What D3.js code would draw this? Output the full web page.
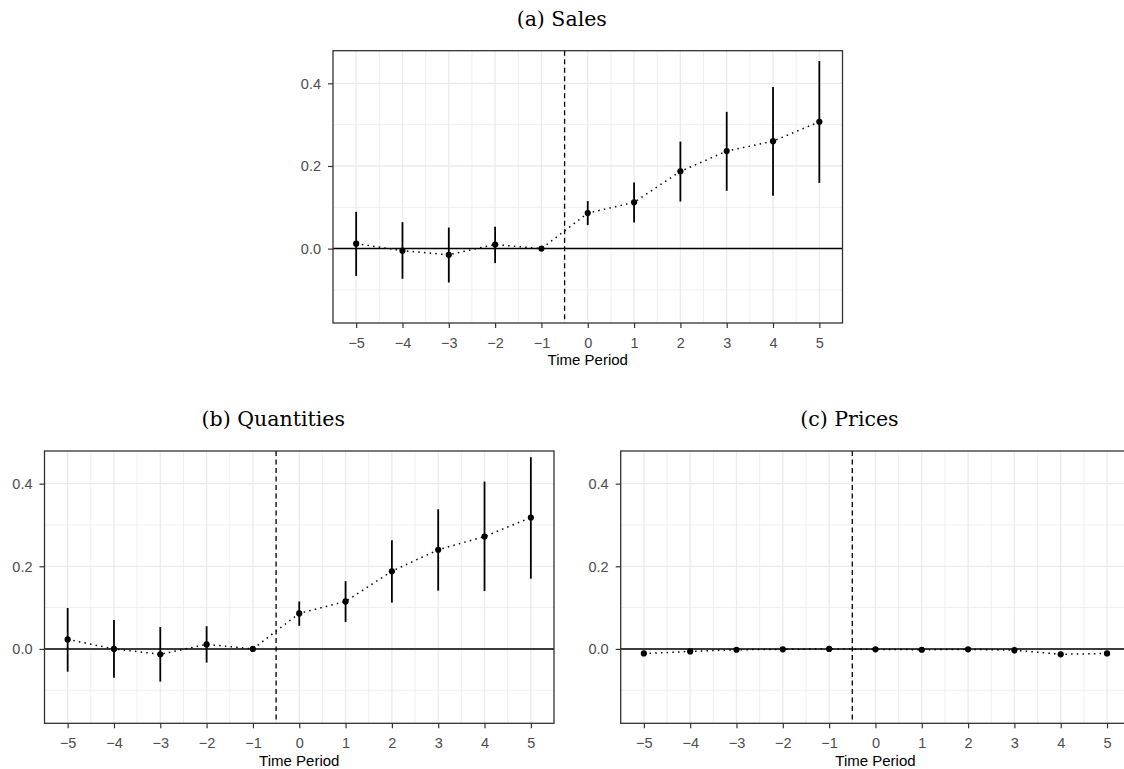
<!DOCTYPE html>
<html><head><meta charset="utf-8">
<script src="https://cdn.jsdelivr.net/npm/d3@7"></script>
<style>body{margin:0;background:#fff;} svg{display:block}</style>
</head><body>
<svg id="chart" width="1124" height="769"></svg>
<script>
// ---- data ----
const periods = [-5, -4, -3, -2, -1, 0, 1, 2, 3, 4, 5];

const salesEst = [0.012, -0.005, -0.015, 0.010, 0, 0.086, 0.112, 0.187, 0.236, 0.260, 0.307];
const salesLo  = [-0.066, -0.073, -0.082, -0.035, 0, 0.057, 0.063, 0.114, 0.140, 0.128, 0.159];
const salesHi  = [0.089, 0.064, 0.051, 0.053, 0, 0.115, 0.160, 0.259, 0.331, 0.391, 0.454];

const qtyEst = [0.023, 0.000, -0.013, 0.011, 0, 0.086, 0.115, 0.188, 0.240, 0.272, 0.318];
const qtyLo  = [-0.055, -0.070, -0.079, -0.033, 0, 0.056, 0.065, 0.112, 0.141, 0.140, 0.170];
const qtyHi  = [0.099, 0.070, 0.053, 0.055, 0, 0.115, 0.164, 0.263, 0.338, 0.405, 0.464];

const priceEst = [-0.011, -0.006, -0.002, -0.001, 0, -0.001, -0.002, -0.001, -0.003, -0.013, -0.011];
const priceLo  = [-0.015, -0.010, -0.006, -0.005, 0, -0.004, -0.006, -0.005, -0.011, -0.019, -0.016];
const priceHi  = [-0.007, -0.002, 0.002, 0.003, 0, 0.002, 0.002, 0.003, 0.005, -0.007, -0.006];

const xTickLabels = periods;
const yTickValues = [0, 0.2, 0.4];
const yMinorValues = [-0.1, 0.1, 0.3];
const xDomain = [-5.5, 5.5];
const yDomain = [-0.18, 0.479];
const treatmentLine = -0.5;
const titles = ["(a) Sales", "(b) Quantities", "(c) Prices"];
const xTitle = "Time Period";

// ---- layout ----
const PW = 509.5, PH = 272.3;
const panels = [
  {x: 333,   y: 50.7, est: salesEst, lo: salesLo, hi: salesHi, title: titles[0]},
  {x: 44.5,  y: 451,  est: qtyEst,   lo: qtyLo,   hi: qtyHi,   title: titles[1]},
  {x: 620.7, y: 451,  est: priceEst, lo: priceLo, hi: priceHi, title: titles[2]}
];

const svg = d3.select("#chart");

panels.forEach((p, i) => {
  const g = svg.append("g").attr("transform", `translate(${p.x},${p.y})`);
  const x = d3.scaleLinear().domain(xDomain).range([0, PW]);
  const y = d3.scaleLinear().domain(yDomain).range([PH, 0]);

  g.append("rect").attr("width", PW).attr("height", PH).attr("fill", "#fff");

  // minor grid
  const xMinor = periods.slice(0, -1).map(d => d + 0.5);
  g.selectAll(".gxm").data(xMinor).enter().append("line")
    .attr("x1", d => x(d)).attr("x2", d => x(d)).attr("y1", 0).attr("y2", PH)
    .attr("stroke", "#efefef").attr("stroke-width", 1);
  g.selectAll(".gym").data(yMinorValues).enter().append("line")
    .attr("y1", d => y(d)).attr("y2", d => y(d)).attr("x1", 0).attr("x2", PW)
    .attr("stroke", "#efefef").attr("stroke-width", 1);
  // major grid
  g.selectAll(".gx").data(periods).enter().append("line")
    .attr("x1", d => x(d)).attr("x2", d => x(d)).attr("y1", 0).attr("y2", PH)
    .attr("stroke", "#ebebeb").attr("stroke-width", 1.3);
  g.selectAll(".gy").data(yTickValues).enter().append("line")
    .attr("y1", d => y(d)).attr("y2", d => y(d)).attr("x1", 0).attr("x2", PW)
    .attr("stroke", "#ebebeb").attr("stroke-width", 1.3);

  // zero line
  g.append("line").attr("x1", 0).attr("x2", PW).attr("y1", y(0)).attr("y2", y(0))
    .attr("stroke", "#000").attr("stroke-width", 1.5);
  // treatment line
  g.append("line").attr("x1", x(treatmentLine)).attr("x2", x(treatmentLine))
    .attr("y1", 0).attr("y2", PH)
    .attr("stroke", "#000").attr("stroke-width", 1.3).attr("stroke-dasharray", "5,3.5");

  const data = periods.map((t, k) => ({t, est: p.est[k], lo: p.lo[k], hi: p.hi[k]}));

  // dotted connecting line
  g.append("path").datum(data)
    .attr("d", d3.line().x(d => x(d.t)).y(d => y(d.est)))
    .attr("fill", "none").attr("stroke", "#000").attr("stroke-width", 1.5)
    .attr("stroke-dasharray", "1.5,4.2");

  // error bars
  g.selectAll(".eb").data(data.filter(d => d.hi !== d.lo)).enter().append("line")
    .attr("x1", d => x(d.t)).attr("x2", d => x(d.t))
    .attr("y1", d => y(d.lo)).attr("y2", d => y(d.hi))
    .attr("stroke", "#000").attr("stroke-width", 1.8);

  // points
  g.selectAll(".pt").data(data).enter().append("circle")
    .attr("cx", d => x(d.t)).attr("cy", d => y(d.est)).attr("r", 3.1)
    .attr("fill", "#000");

  // border
  g.append("rect").attr("width", PW).attr("height", PH)
    .attr("fill", "none").attr("stroke", "#333").attr("stroke-width", 1.3);

  // axes
  const xAxis = g.append("g").attr("transform", `translate(0,${PH})`)
    .call(d3.axisBottom(x).tickValues(xTickLabels).tickFormat(d3.format("d"))
      .tickSize(5).tickSizeOuter(0).tickPadding(9.5));
  const yAxis = g.append("g")
    .call(d3.axisLeft(y).tickValues(yTickValues).tickFormat(d3.format(".1f"))
      .tickSize(5).tickSizeOuter(0).tickPadding(7));
  [xAxis, yAxis].forEach(a => {
    a.select(".domain").remove();
    a.selectAll(".tick line").attr("stroke", "#333").attr("stroke-width", 1.2);
    a.selectAll(".tick text").attr("fill", "#4d4d4d")
      .style("font-family", "'Liberation Sans', Arial, sans-serif").style("font-size", "14.5px");
  });
  yAxis.selectAll(".tick text").attr("dy", "0.34em");

  // axis title
  g.append("text").attr("x", PW / 2).attr("y", PH + 42.5)
    .attr("text-anchor", "middle").attr("fill", "#000")
    .style("font-family", "'Liberation Sans', Arial, sans-serif").style("font-size", "15px")
    .text(xTitle);

  // panel title
  g.append("text").attr("x", PW / 2 - 26).attr("y", -25)
    .attr("text-anchor", "middle").attr("fill", "#000")
    .style("font-family", "'DejaVu Serif', serif").style("font-size", "20.5px")
    .text(p.title);
});
</script>
</body></html>
